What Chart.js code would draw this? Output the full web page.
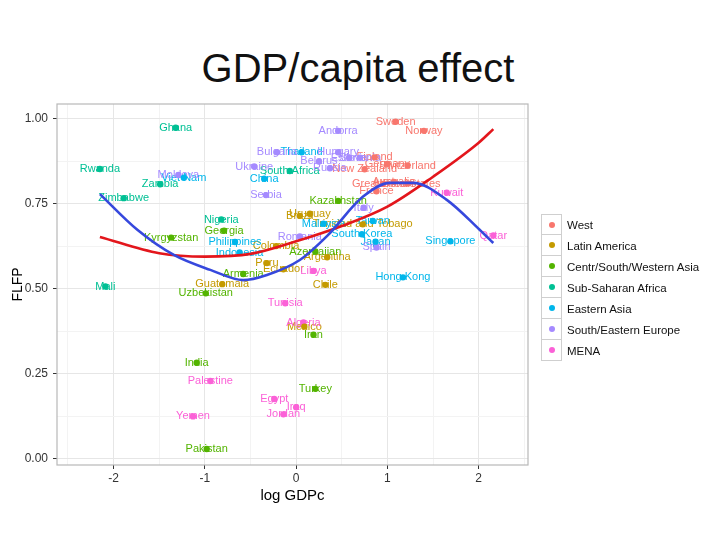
<!DOCTYPE html>
<html lang="en">
<head>
<meta charset="UTF-8">
<title>GDP/capita effect</title>
<script src="https://cdn.jsdelivr.net/npm/chart.js@4.4.0/dist/chart.umd.min.js"></script>
<style>
    body { margin: 0; background: #fff; font-family: "Liberation Sans", Arial, sans-serif; }
    .wrap { position: relative; width: 720px; height: 540px; }
    h1 { position: absolute; left: 0; top: 48px; width: 716px; margin: 0; text-align: center;
         font-weight: normal; font-size: 40px; line-height: 40px; color: #111; }
    canvas { position: absolute; left: 0; top: 0; }
    #legend { position: absolute; left: 541px; top: 214px; }
    .row { display: flex; align-items: center; height: 21px; }
    .key { width: 21px; height: 22px; box-sizing: border-box; border: 1px solid #cfcfcf;
           margin-top: -1px; display: flex; align-items: center; justify-content: center; background: #fff; }
    .row:first-child .key { margin-top: 0; height: 21px; }
    .dot { width: 6px; height: 6px; border-radius: 50%; }
    .lab { font-size: 11.5px; color: #111; margin-left: 5px; white-space: nowrap; }
</style>
</head>
<body>
<div class="wrap">
    <h1>GDP/capita effect</h1>
    <canvas id="chart" width="720" height="540"></canvas>
    <div id="legend"></div>
</div>
<script>
// regions and their colours
const regions = ['West', 'Latin America', 'Centr/South/Western Asia', 'Sub-Saharan Africa',
                 'Eastern Asia', 'South/Eastern Europe', 'MENA'];
const regionColors = ['#F8766D', '#C49A00', '#53B400', '#00C094', '#00B6EB', '#A58AFF', '#FB61D7'];

// countries (region index, log GDP per capita, FLFP)
const countries = ['Sweden', 'Norway', 'Finland', 'Germany', 'Switzerland', 'New Zealand', 'Great Britain',
    'Australia', 'United States', 'France',
    'Uruguay', 'Brazil', 'Trinidad and Tobago', 'Colombia', 'Peru', 'Ecuador', 'Guatemala', 'Argentina',
    'Chile', 'Mexico',
    'Kazakhstan', 'Kyrgyzstan', 'Georgia', 'Armenia', 'Uzbekistan', 'Azerbaijan', 'Iran', 'Turkey',
    'India', 'Pakistan',
    'Ghana', 'Rwanda', 'Zambia', 'Zimbabwe', 'South Africa', 'Nigeria', 'Mali',
    'Thailand', 'Viet Nam', 'China', 'Philippines', 'Indonesia', 'Malaysia', 'South Korea', 'Japan',
    'Singapore', 'Hong Kong', 'Taiwan',
    'Andorra', 'Bulgaria', 'Hungary', 'Estonia', 'Slovenia', 'Belarus', 'Russia', 'Ukraine', 'Serbia',
    'Moldova', 'Romania', 'Italy', 'Spain',
    'Kuwait', 'Qatar', 'Libya', 'Tunisia', 'Algeria', 'Iraq', 'Jordan', 'Egypt', 'Palestine', 'Yemen'];
const countryRegion = [0, 0, 0, 0, 0, 0, 0, 0, 0, 0,
    1, 1, 1, 1, 1, 1, 1, 1, 1, 1,
    2, 2, 2, 2, 2, 2, 2, 2, 2, 2,
    3, 3, 3, 3, 3, 3, 3,
    4, 4, 4, 4, 4, 4, 4, 4, 4, 4, 4,
    5, 5, 5, 5, 5, 5, 5, 5, 5, 5, 5, 5, 5,
    6, 6, 6, 6, 6, 6, 6, 6, 6, 6];
const logGdpc = [1.09, 1.40, 0.86, 1.00, 1.22, 0.75, 0.95, 1.07, 1.22, 0.88,
    0.15, 0.04, 0.73, -0.22, -0.32, -0.14, -0.81, 0.34, 0.32, 0.09,
    0.46, -1.37, -0.79, -0.58, -0.99, 0.21, 0.19, 0.21, -1.09, -0.98,
    -1.32, -2.15, -1.49, -1.89, -0.07, -0.82, -2.09,
    0.06, -1.23, -0.35, -0.67, -0.62, 0.30, 0.72, 0.87, 1.69, 1.17, 0.84,
    0.46, -0.21, 0.46, 0.58, 0.70, 0.25, 0.37, -0.46, -0.33, -1.29, 0.04, 0.74, 0.88,
    1.65, 2.16, 0.19, -0.12, 0.08, 0.00, -0.14, -0.24, -0.94, -1.13];
const flfp = [0.992, 0.965, 0.887, 0.868, 0.863, 0.852, 0.809, 0.815, 0.810, 0.787,
    0.721, 0.715, 0.690, 0.626, 0.576, 0.558, 0.514, 0.593, 0.512, 0.389,
    0.759, 0.651, 0.671, 0.544, 0.487, 0.610, 0.365, 0.206, 0.283, 0.029,
    0.974, 0.853, 0.808, 0.767, 0.847, 0.704, 0.507,
    0.902, 0.827, 0.824, 0.638, 0.607, 0.692, 0.661, 0.639, 0.640, 0.534, 0.700,
    0.965, 0.902, 0.902, 0.886, 0.886, 0.875, 0.855, 0.860, 0.776, 0.835, 0.654, 0.739, 0.622,
    0.783, 0.657, 0.553, 0.458, 0.401, 0.152, 0.131, 0.176, 0.229, 0.125];

// smoothed fits
const redX = [-2.15, -1.5, -1.0, -0.5, 0.0, 0.5, 1.0, 1.5, 2.0, 2.16];
const redY = [0.653, 0.605, 0.595, 0.603, 0.640, 0.685, 0.742, 0.830, 0.930, 0.970];
const blueX = [-2.15, -1.74, -1.34, -0.94, -0.58, -0.32, 0.04, 0.34, 0.73, 1.03, 1.28, 1.65, 2.01, 2.16];
const blueY = [0.779, 0.674, 0.600, 0.556, 0.526, 0.541, 0.585, 0.656, 0.771, 0.812, 0.812, 0.762, 0.674, 0.635];

// axis ticks (major + minor)
const xTicks = [-2.5, -2, -1.5, -1, -0.5, 0, 0.5, 1, 1.5, 2, 2.5];
const yTicks = [0, 0.125, 0.25, 0.375, 0.5, 0.625, 0.75, 0.875, 1.0];

const pointSets = regions.map((r, ri) => ({
    label: r,
    data: countries.map((c, i) => ({ x: logGdpc[i], y: flfp[i], name: c, r: countryRegion[i] }))
                   .filter(p => p.r === ri),
    backgroundColor: regionColors[ri],
    borderWidth: 0,
    pointRadius: 3.2,
    order: 2
}));

const lineSets = [
    { label: 'loess', data: blueX.map((x, i) => ({ x: x, y: blueY[i] })), showLine: true,
      borderColor: '#3648dd', borderWidth: 2.6, pointRadius: 0, cubicInterpolationMode: 'monotone', order: 0 },
    { label: 'quad', data: redX.map((x, i) => ({ x: x, y: redY[i] })), showLine: true,
      borderColor: '#e3161c', borderWidth: 2.6, pointRadius: 0, cubicInterpolationMode: 'monotone', order: 1 }
];

// country names written over their points
const pointLabels = {
    id: 'pointLabels',
    beforeDatasetsDraw(chart) {
        const ctx = chart.ctx, xs = chart.scales.x, ys = chart.scales.y;
        ctx.save();
        ctx.font = '11px "Liberation Sans", Arial, sans-serif';
        ctx.textAlign = 'center';
        ctx.textBaseline = 'middle';
        pointSets.forEach((ds, ri) => {
            ctx.fillStyle = regionColors[ri];
            ds.data.forEach(p => ctx.fillText(p.name, xs.getPixelForValue(p.x), ys.getPixelForValue(p.y)));
        });
        ctx.restore();
    }
};

// grey frame around the panel
const panelBorder = {
    id: 'panelBorder',
    afterDraw(chart) {
        const a = chart.chartArea, ctx = chart.ctx;
        ctx.save();
        ctx.strokeStyle = '#b8b8b8';
        ctx.lineWidth = 1.2;
        ctx.strokeRect(a.left, a.top, a.right - a.left, a.bottom - a.top);
        ctx.restore();
    }
};

const isMajorX = v => Number.isInteger(v);
const isMajorY = v => Math.abs(v * 4 - Math.round(v * 4)) < 1e-6;

new Chart(document.getElementById('chart'), {
    type: 'scatter',
    data: { datasets: lineSets.concat(pointSets) },
    plugins: [pointLabels, panelBorder],
    options: {
        responsive: false,
        animation: false,
        layout: { padding: { top: 104, right: 192, bottom: 35, left: 0 } },
        plugins: { legend: { display: false }, tooltip: { enabled: false } },
        scales: {
            x: {
                type: 'linear', min: -2.62, max: 2.54,
                afterBuildTicks: s => { s.ticks = xTicks.map(v => ({ value: v })); },
                afterFit: s => { s.height = 40; },
                border: { display: false },
                grid: {
                    color: c => isMajorX(c.tick.value) ? '#e6e6e6' : '#f3f3f3',
                    tickColor: c => isMajorX(c.tick.value) ? '#333' : 'rgba(0,0,0,0)',
                    tickLength: 4, lineWidth: 1
                },
                ticks: {
                    padding: 2, color: '#333', maxRotation: 0, autoSkip: false,
                    font: { family: '"Liberation Sans", Arial, sans-serif', size: 12 },
                    callback: v => isMajorX(v) ? String(v) : ''
                },
                title: { display: true, text: 'log GDPc', color: '#000', padding: { top: 2, bottom: 0 },
                         font: { family: '"Liberation Sans", Arial, sans-serif', size: 15 } }
            },
            y: {
                type: 'linear', min: -0.018, max: 1.044,
                afterBuildTicks: s => { s.ticks = yTicks.map(v => ({ value: v })); },
                afterFit: s => { s.width = 57; },
                border: { display: false },
                grid: {
                    color: c => isMajorY(c.tick.value) ? '#e6e6e6' : '#f3f3f3',
                    tickColor: c => isMajorY(c.tick.value) ? '#333' : 'rgba(0,0,0,0)',
                    tickLength: 4, lineWidth: 1
                },
                ticks: {
                    padding: 5, color: '#333', autoSkip: false,
                    font: { family: '"Liberation Sans", Arial, sans-serif', size: 12 },
                    callback: v => isMajorY(v) ? v.toFixed(2) : ''
                },
                title: { display: true, text: 'FLFP', color: '#000', padding: { top: 10, bottom: 0 },
                         font: { family: '"Liberation Sans", Arial, sans-serif', size: 14 } }
            }
        }
    }
});

// legend built from the region arrays
const legend = document.getElementById('legend');
regions.forEach((r, i) => {
    const row = document.createElement('div');
    row.className = 'row';
    row.innerHTML = '<div class="key"><div class="dot" style="background:' + regionColors[i] + '"></div></div>' +
                    '<div class="lab">' + r + '</div>';
    legend.appendChild(row);
});
</script>
</body>
</html>
